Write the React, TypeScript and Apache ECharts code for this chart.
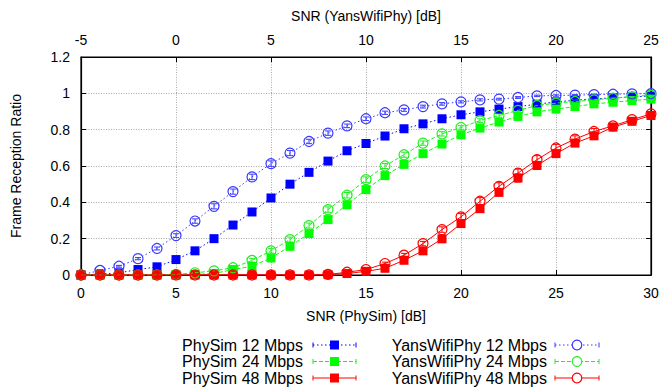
import React, { useEffect, useRef } from "react";
import * as echarts from "echarts";

const snr = [0,1,2,3,4,5,6,7,8,9,10,11,12,13,14,15,16,17,18,19,20,21,22,23,24,25,26,27,28,29,30];
const bottomTicks = [0,5,10,15,20,25,30];
const topTicks = [-5,0,5,10,15,20,25];

const phy12 = [0,0.005,0.012,0.03,0.045,0.085,0.133,0.2,0.275,0.347,0.424,0.5,0.565,0.627,0.684,0.724,0.765,0.805,0.832,0.86,0.882,0.898,0.913,0.927,0.94,0.953,0.962,0.97,0.975,0.98,0.985];
const yans12 = [0,0.025,0.048,0.09,0.146,0.217,0.297,0.378,0.459,0.54,0.613,0.671,0.735,0.781,0.821,0.86,0.893,0.909,0.927,0.942,0.953,0.964,0.968,0.977,0.986,0.988,0.99,0.993,0.995,0.997,0.998];
const phy24 = [0,0,0,0,0,0.001,0.003,0.008,0.03,0.048,0.094,0.158,0.228,0.305,0.387,0.47,0.547,0.609,0.668,0.721,0.772,0.809,0.842,0.873,0.898,0.913,0.927,0.942,0.951,0.96,0.968];
const yans24 = [0,0,0,0,0.001,0.003,0.012,0.023,0.04,0.08,0.133,0.195,0.272,0.36,0.439,0.525,0.6,0.662,0.726,0.777,0.812,0.85,0.878,0.906,0.933,0.946,0.955,0.964,0.973,0.982,0.99];
const phy48 = [0,0,0,0,0,0,0,0,0,0,0,0,0,0.002,0.008,0.02,0.037,0.081,0.133,0.199,0.283,0.365,0.455,0.534,0.603,0.668,0.726,0.766,0.814,0.846,0.878];
const yans48 = [0,0,0,0,0,0,0,0,0,0,0,0,0,0.003,0.015,0.03,0.063,0.109,0.173,0.25,0.32,0.406,0.488,0.561,0.635,0.699,0.748,0.79,0.821,0.855,0.887];

const phy12Err = [0,0.003,0.004,0.005,0.006,0.007,0.008,0.01,0.01,0.012,0.012,0.012,0.012,0.01,0.01,0.01,0.008,0.008,0.007,0.006,0.006,0.005,0.005,0.004,0.004,0.003,0.003,0.003,0.002,0.002,0.002];
const yans12Err = [0,0.004,0.005,0.006,0.008,0.01,0.012,0.014,0.014,0.015,0.015,0.014,0.012,0.012,0.01,0.01,0.009,0.008,0.008,0.007,0.006,0.006,0.005,0.005,0.004,0.004,0.003,0.003,0.003,0.002,0.002];
const phy24Err = [0,0,0,0,0,0.002,0.003,0.004,0.006,0.008,0.01,0.012,0.012,0.014,0.014,0.014,0.014,0.012,0.012,0.01,0.01,0.009,0.008,0.008,0.007,0.006,0.005,0.005,0.004,0.004,0.003];
const yans24Err = [0,0,0,0,0.002,0.003,0.004,0.006,0.008,0.01,0.012,0.014,0.014,0.015,0.015,0.015,0.014,0.014,0.012,0.012,0.01,0.01,0.009,0.008,0.007,0.006,0.005,0.005,0.004,0.004,0.003];
const phy48Err = [0,0,0,0,0,0,0,0,0,0,0,0,0,0.002,0.004,0.006,0.008,0.01,0.012,0.015,0.018,0.02,0.02,0.022,0.022,0.02,0.018,0.016,0.014,0.012,0.01];
const yans48Err = [0,0,0,0,0,0,0,0,0,0,0,0,0,0.002,0.004,0.006,0.008,0.01,0.012,0.015,0.018,0.02,0.02,0.022,0.022,0.02,0.018,0.016,0.014,0.012,0.01];

const names = ["PhySim 12 Mbps","PhySim 24 Mbps","PhySim 48 Mbps","YansWifiPhy 12 Mbps","YansWifiPhy 24 Mbps","YansWifiPhy 48 Mbps"];

const FONT = "Liberation Sans, Arial, sans-serif";
const BLUE = "#0000ff";
const BLUE2 = "#3a3aff";
const GREEN = "#00ff00";
const GREEN2 = "#22ee22";
const RED = "#ff0000";

export default function App() {
  const ref = useRef<HTMLDivElement>(null);
  useEffect(() => {
    if (!ref.current) return;
    const chart = echarts.init(ref.current, undefined, { renderer: "svg" });

    const defs = [
      { name: names[0], data: phy12, err: phy12Err, color: BLUE, dash: [1.5, 2.5] as any, sym: "rect", size: 9 },
      { name: names[1], data: phy24, err: phy24Err, color: GREEN, dash: [4, 2] as any, sym: "rect", size: 9 },
      { name: names[2], data: phy48, err: phy48Err, color: RED, dash: "solid" as any, sym: "rect", size: 9 },
      { name: names[3], data: yans12, err: yans12Err, color: BLUE2, dash: [1.5, 2.5] as any, sym: "circle", size: 10 },
      { name: names[4], data: yans24, err: yans24Err, color: GREEN2, dash: [4, 2] as any, sym: "circle", size: 10 },
      { name: names[5], data: yans48, err: yans48Err, color: RED, dash: "solid" as any, sym: "circle", size: 10 },
    ];

    const series: any[] = [];
    defs.forEach((d, k) => {
      const pts = snr.map((x, i) => [x, d.data[i], d.err[i]]);
      series.push({
        type: "custom",
        name: d.name + " err",
        xAxisIndex: 0,
        yAxisIndex: 0,
        data: pts,
        silent: true,
        z: 2,
        renderItem: (params: any, api: any) => {
          const x = api.value(0);
          const y = api.value(1);
          const e = api.value(2);
          if (!e) return null;
          const top = api.coord([x, y + e]);
          const bot = api.coord([x, y - e]);
          const st = { stroke: d.color, lineWidth: 1 };
          return {
            type: "group",
            children: [
              { type: "line", shape: { x1: top[0], y1: top[1], x2: bot[0], y2: bot[1] }, style: st },
              { type: "line", shape: { x1: top[0] - 3, y1: top[1], x2: top[0] + 3, y2: top[1] }, style: st },
              { type: "line", shape: { x1: bot[0] - 3, y1: bot[1], x2: bot[0] + 3, y2: bot[1] }, style: st },
            ],
          };
        },
      });
      const isRect = d.sym === "rect";
      series.push({
        type: "line",
        name: d.name,
        xAxisIndex: 0,
        yAxisIndex: 0,
        data: pts.map((p) => [p[0], p[1]]),
        symbol: d.sym,
        symbolSize: d.size,
        showAllSymbol: true,
        lineStyle: { color: d.color, width: 1, type: d.dash },
        itemStyle: isRect
          ? { color: d.color, borderWidth: 0 }
          : { color: "rgba(255,255,255,0)", borderColor: d.color, borderWidth: 1.2 },
        z: 3 + k * 0.01,
      });
    });

    // legend via graphic
    const legendRows = [
      { col: 0, row: 0, label: names[0], color: BLUE, dash: [1.5, 2.5], sym: "rect" },
      { col: 0, row: 1, label: names[1], color: GREEN, dash: [4, 2], sym: "rect" },
      { col: 0, row: 2, label: names[2], color: RED, dash: null, sym: "rect" },
      { col: 1, row: 0, label: names[3], color: BLUE2, dash: [1.5, 2.5], sym: "circle" },
      { col: 1, row: 1, label: names[4], color: GREEN2, dash: [4, 2], sym: "circle" },
      { col: 1, row: 2, label: names[5], color: RED, dash: null, sym: "circle" },
    ];
    const rowY = [345, 361.5, 378];
    const colText = [303, 547];
    const colLine = [[313, 356], [555, 599]];
    const graphic: any[] = [];
    legendRows.forEach((r) => {
      const y = rowY[r.row];
      const [x1, x2] = colLine[r.col];
      const xm = (x1 + x2) / 2;
      const ls: any = { stroke: r.color, lineWidth: 1 };
      if (r.dash) ls.lineDash = r.dash;
      graphic.push({
        type: "text",
        x: colText[r.col],
        y,
        style: { text: r.label, fill: "#000", font: `16px ${FONT}`, align: "right", verticalAlign: "middle" },
      });
      graphic.push({ type: "line", shape: { x1, y1: y, x2, y2: y }, style: ls });
      graphic.push({ type: "line", shape: { x1, y1: y - 2.5, x2: x1, y2: y + 2.5 }, style: { stroke: r.color, lineWidth: 1 } });
      graphic.push({ type: "line", shape: { x1: x2, y1: y - 2.5, x2, y2: y + 2.5 }, style: { stroke: r.color, lineWidth: 1 } });
      if (r.sym === "rect") {
        graphic.push({ type: "rect", shape: { x: xm - 4.5, y: y - 4.5, width: 9, height: 9 }, style: { fill: r.color } });
      } else {
        graphic.push({ type: "circle", shape: { cx: xm, cy: y, r: 4.8 }, style: { fill: "#fff", stroke: r.color, lineWidth: 1.2 } });
      }
    });

    const gridLine = { show: true, lineStyle: { color: "#a8a8a8", type: [1, 1.5] as any, width: 1 } };
    const axisLabelStyle = { color: "#000", fontSize: 14, fontFamily: FONT };

    chart.setOption({
      animation: false,
      backgroundColor: "#ffffff",
      grid: { left: 81, right: 11, top: 57, bottom: 112, show: true, borderColor: "#000", borderWidth: 1.2, backgroundColor: "transparent" },
      xAxis: [
        {
          type: "value", min: 0, max: 30, interval: 5, position: "bottom",
          name: "SNR (PhySim) [dB]", nameLocation: "middle", nameGap: 34,
          nameTextStyle: { color: "#000", fontSize: 14, fontFamily: FONT },
          axisLine: { show: true, onZero: false, lineStyle: { color: "#000", width: 1.2 } },
          axisTick: { show: true, inside: true, length: 5, lineStyle: { color: "#000" } },
          minorTick: { show: false },
          axisLabel: { ...axisLabelStyle, margin: 11, formatter: (v: number) => (bottomTicks.includes(v) ? String(v) : "") },
          splitLine: gridLine,
        },
        {
          type: "value", min: -5, max: 25, interval: 5, position: "top",
          name: "SNR (YansWifiPhy) [dB]", nameLocation: "middle", nameGap: 34,
          nameTextStyle: { color: "#000", fontSize: 14, fontFamily: FONT },
          axisLine: { show: true, onZero: false, lineStyle: { color: "#000", width: 1.2 } },
          axisTick: { show: true, inside: true, length: 5, lineStyle: { color: "#000" } },
          axisLabel: { ...axisLabelStyle, margin: 10, formatter: (v: number) => (topTicks.includes(v) ? String(v) : "") },
          splitLine: { show: false },
        },
      ],
      yAxis: [
        {
          type: "value", min: 0, max: 1.2, interval: 0.2, position: "left",
          name: "Frame Reception Ratio", nameLocation: "middle", nameGap: 58,
          nameTextStyle: { color: "#000", fontSize: 14, fontFamily: FONT },
          axisLine: { show: true, onZero: false, lineStyle: { color: "#000", width: 1.2 } },
          axisTick: { show: true, inside: true, length: 5, lineStyle: { color: "#000" } },
          axisLabel: { ...axisLabelStyle, margin: 11, formatter: (v: number) => String(Math.round(v * 10) / 10) },
          splitLine: gridLine,
        },
        {
          type: "value", min: 0, max: 1.2, interval: 0.2, position: "right",
          axisLine: { show: true, onZero: false, lineStyle: { color: "#000", width: 1.2 } },
          axisTick: { show: true, inside: true, length: 5, lineStyle: { color: "#000" } },
          axisLabel: { show: false },
          splitLine: { show: false },
        },
      ],
      series,
      graphic,
    });
    return () => chart.dispose();
  }, []);
  return <div ref={ref} style={{ width: 662, height: 387, position: "absolute", left: 0, top: 0 }} />;
}
